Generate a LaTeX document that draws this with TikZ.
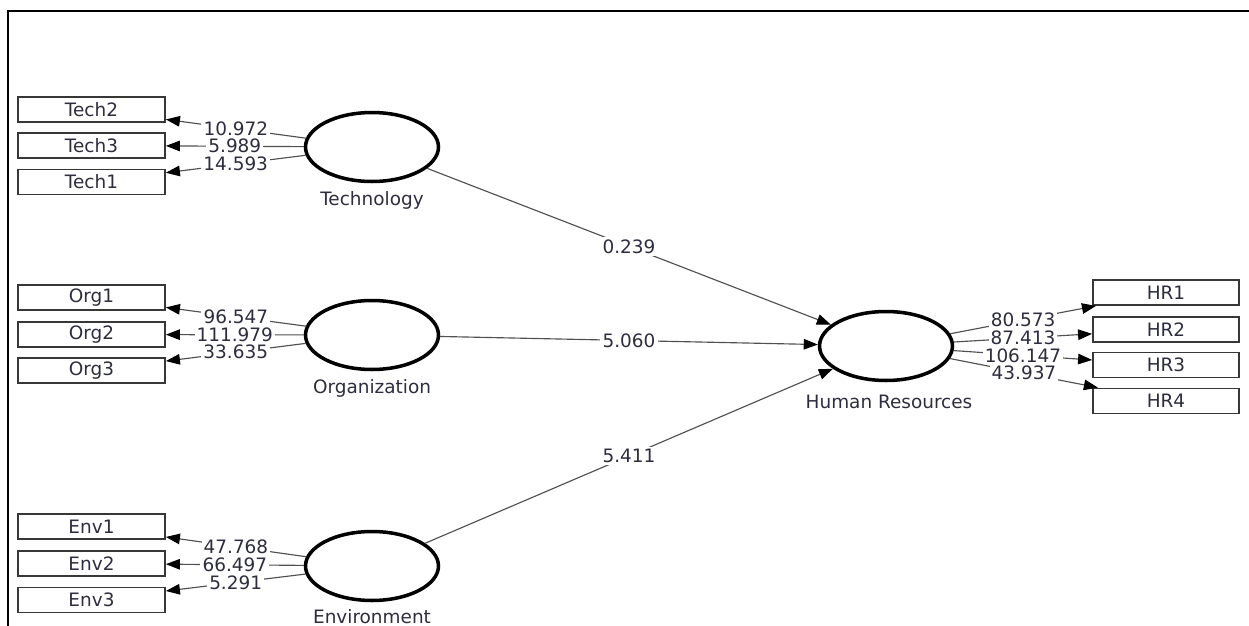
\documentclass[tikz,border=0pt]{standalone}
\usepackage{fontspec}
\setmainfont{DejaVu Sans}
\usetikzlibrary{shapes.geometric,arrows.meta}
\definecolor{txt}{RGB}{45,45,62}
\definecolor{ln}{RGB}{80,80,80}
\definecolor{bx}{RGB}{55,55,55}
\begin{document}
\begin{tikzpicture}[x=0.02cm,y=-0.02cm,
  font=\fontsize{10.5}{12}\selectfont,
  lv/.style={ellipse,draw=black,line width=2pt,minimum width=2.66cm,minimum height=1.38cm,inner sep=0pt},
  ind/.style={rectangle,draw=bx,line width=1pt,minimum width=2.94cm,minimum height=0.5cm,inner sep=0pt,text=txt},
  lvname/.style={text=txt,inner sep=0pt},
  val/.style={midway,fill=white,inner sep=1.2pt,text=txt},
  conn/.style={draw=ln,line width=0.65pt,-{Triangle[length=8pt,width=6pt,color=black]}},
  frame/.style={draw=black,line width=1.2pt}
]
\useasboundingbox (0,0) rectangle (1249,626);
\coordinate (fa) at (8,626);
\coordinate (fb) at (8,11);
\coordinate (fc) at (1249,11);
\draw[frame] (fa) -- (fb) -- (fc);

% latent variables
\node[lv] (tech) at (372,147) {};
\node[lv] (org) at (372,335) {};
\node[lv] (env) at (372,566) {};
\node[lv] (hr) at (886,346) {};
\node[lvname] (techl) at (372,200) {Technology};
\node[lvname] (orgl) at (372,388) {Organization};
\node[lvname] (envl) at (372,617) {Environment};
\node[lvname] (hrl) at (889,402) {Human Resources};

% indicators
\node[ind] (tech2) at (91.5,109.5) {Tech2};
\node[ind] (tech3) at (91.5,145.5) {Tech3};
\node[ind] (tech1) at (91.5,182) {Tech1};
\node[ind] (org1) at (91.5,297.5) {Org1};
\node[ind] (org2) at (91.5,334.5) {Org2};
\node[ind] (org3) at (91.5,370.5) {Org3};
\node[ind] (env1) at (91.5,526.5) {Env1};
\node[ind] (env2) at (91.5,563.5) {Env2};
\node[ind] (env3) at (91.5,600) {Env3};
\node[ind,minimum width=2.92cm] (hr1) at (1166,292.5) {HR1};
\node[ind,minimum width=2.92cm] (hr2) at (1166,329.5) {HR2};
\node[ind,minimum width=2.92cm] (hr3) at (1166,365) {HR3};
\node[ind,minimum width=2.92cm] (hr4) at (1166,401) {HR4};

% outer loadings
\draw[conn] (tech) -- node[val]{10.972} (tech2);
\draw[conn] (tech) -- node[val]{5.989} (tech3);
\draw[conn] (tech) -- node[val]{14.593} (tech1);
\draw[conn] (org) -- node[val]{96.547} (org1);
\draw[conn] (org) -- node[val]{111.979} (org2);
\draw[conn] (org) -- node[val]{33.635} (org3);
\draw[conn] (env) -- node[val]{47.768} (env1);
\draw[conn] (env) -- node[val]{66.497} (env2);
\draw[conn] (env) -- node[val]{5.291} (env3);
\draw[conn] (hr) -- node[val]{80.573} (hr1);
\draw[conn] (hr) -- node[val]{87.413} (hr2);
\draw[conn] (hr) -- node[val]{106.147} (hr3);
\draw[conn] (hr) -- node[val]{43.937} (hr4);

% structural paths
\draw[conn] (tech) -- node[val]{0.239} (hr);
\draw[conn] (org) -- node[val]{5.060} (hr);
\draw[conn] (env) -- node[val]{5.411} (hr);
\end{tikzpicture}
\end{document}
